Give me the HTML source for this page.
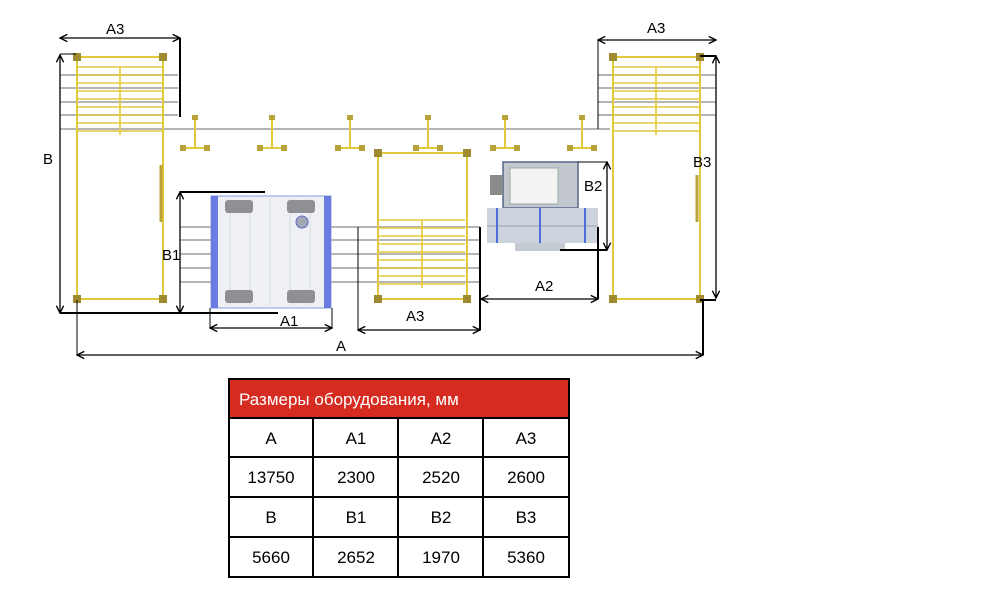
<!DOCTYPE html>
<html><head><meta charset="utf-8"><style>
html,body{margin:0;padding:0;background:#fff;width:1000px;height:590px;overflow:hidden}
svg{position:absolute;left:0;top:0}
text{font-family:"Liberation Sans","DejaVu Sans",sans-serif}
</style></head><body>
<svg width="1000" height="590" viewBox="0 0 1000 590" xmlns="http://www.w3.org/2000/svg">
<defs>
<marker id="ar" viewBox="0 0 10 10" refX="9" refY="5" markerWidth="7" markerHeight="7" orient="auto-start-reverse"><path d="M1,1 L9,5 L1,9" fill="none" stroke="#000" stroke-width="1.5"/></marker>
<g id="grille">
 <g stroke="#e3c93a" stroke-width="1.6">
  <line x1="0" y1="0" x2="86" y2="0"/><line x1="0" y1="8" x2="86" y2="8"/><line x1="0" y1="16" x2="86" y2="16"/><line x1="0" y1="24" x2="86" y2="24"/><line x1="0" y1="32" x2="86" y2="32"/><line x1="0" y1="40" x2="86" y2="40"/><line x1="0" y1="48" x2="86" y2="48"/><line x1="0" y1="56" x2="86" y2="56"/><line x1="0" y1="64" x2="86" y2="64"/><line x1="43" y1="0" x2="43" y2="68"/>
 </g>
</g>
<g id="tee" fill="#b8a23a" stroke="#e3c93a" stroke-width="2">
 <line x1="0" y1="0" x2="0" y2="30"/><line x1="-12" y1="30" x2="12" y2="30"/>
 <rect x="-3" y="-3" width="6" height="5" stroke="none"/><rect x="-15" y="27" width="6" height="6" stroke="none"/><rect x="9" y="27" width="6" height="6" stroke="none"/>
</g>
</defs>

<!-- gray rails -->
<g stroke="#b5b5b5" stroke-width="2">
 <line x1="60" y1="75" x2="178" y2="75"/><line x1="60" y1="88" x2="178" y2="88"/><line x1="60" y1="102" x2="178" y2="102"/><line x1="60" y1="115" x2="178" y2="115"/><line x1="60" y1="129" x2="610" y2="129"/>
 <line x1="598" y1="75" x2="716" y2="75"/><line x1="598" y1="88" x2="716" y2="88"/><line x1="598" y1="102" x2="716" y2="102"/><line x1="598" y1="115" x2="716" y2="115"/>
 <line x1="180" y1="227" x2="480" y2="227"/><line x1="180" y1="240" x2="480" y2="240"/><line x1="180" y1="254" x2="480" y2="254"/><line x1="180" y1="268" x2="480" y2="268"/><line x1="180" y1="282" x2="480" y2="282"/>
</g>

<!-- left frame -->
<rect x="77" y="57" width="86" height="242" fill="none" stroke="#e3c93a" stroke-width="2"/>
<use href="#grille" x="77" y="67"/>
<line x1="161" y1="165" x2="161" y2="222" stroke="#b8a23a" stroke-width="3"/>
<g fill="#a08a30"><rect x="73" y="53" width="8" height="8"/><rect x="159" y="53" width="8" height="8"/><rect x="73" y="295" width="8" height="8"/><rect x="159" y="295" width="8" height="8"/></g>

<!-- right frame -->
<rect x="613" y="57" width="87" height="242" fill="none" stroke="#e3c93a" stroke-width="2"/>
<use href="#grille" x="613" y="67"/>
<line x1="697" y1="175" x2="697" y2="222" stroke="#b8a23a" stroke-width="3"/>
<g fill="#a08a30"><rect x="609" y="53" width="8" height="8"/><rect x="696" y="53" width="8" height="8"/><rect x="609" y="295" width="8" height="8"/><rect x="696" y="295" width="8" height="8"/></g>

<!-- center frame -->
<rect x="378" y="153" width="89" height="146" fill="none" stroke="#e3c93a" stroke-width="2"/>
<use href="#grille" x="379" y="220"/>
<g fill="#a08a30"><rect x="374" y="149" width="8" height="8"/><rect x="463" y="149" width="8" height="8"/><rect x="374" y="295" width="8" height="8"/><rect x="463" y="295" width="8" height="8"/></g>

<!-- tees -->
<use href="#tee" x="195" y="118"/><use href="#tee" x="272" y="118"/><use href="#tee" x="350" y="118"/><use href="#tee" x="428" y="118"/><use href="#tee" x="505" y="118"/><use href="#tee" x="582" y="118"/>

<!-- blue unit -->
<rect x="211" y="196" width="120" height="112" fill="#eef0f3" stroke="#8b9be0" stroke-width="1"/>
<g stroke="#d8dbe2" stroke-width="1"><line x1="230" y1="198" x2="230" y2="306"/><line x1="250" y1="198" x2="250" y2="306"/><line x1="270" y1="198" x2="270" y2="306"/><line x1="290" y1="198" x2="290" y2="306"/><line x1="310" y1="198" x2="310" y2="306"/></g>
<rect x="211" y="196" width="7" height="112" fill="#6a7ce0"/><rect x="324" y="196" width="7" height="112" fill="#6a7ce0"/>
<g fill="#8e9096"><rect x="225" y="200" width="28" height="13" rx="3"/><rect x="287" y="200" width="28" height="13" rx="3"/><rect x="225" y="290" width="28" height="13" rx="3"/><rect x="287" y="290" width="28" height="13" rx="3"/></g>
<circle cx="302" cy="222" r="6" fill="#a4a8b4" stroke="#5a6ad0"/>

<!-- gray machine -->
<rect x="503" y="162" width="75" height="46" fill="#c3c8cf" stroke="#56658a" stroke-width="1.5"/>
<rect x="490" y="175" width="13" height="20" fill="#8a8c8a"/>
<rect x="510" y="168" width="48" height="36" fill="#f3f3f3" stroke="#9aa"/>
<rect x="487" y="208" width="111" height="35" fill="#ccd3dc"/>
<line x1="487" y1="226" x2="598" y2="226" stroke="#9aa3ad"/>
<g stroke="#4f6cdc" stroke-width="2"><line x1="497" y1="208" x2="497" y2="243"/><line x1="540" y1="208" x2="540" y2="243"/><line x1="585" y1="208" x2="585" y2="243"/></g>
<rect x="515" y="243" width="50" height="8" fill="#c3cad2"/>

<!-- dimensions -->
<g stroke="#000" fill="none">
 <line x1="60" y1="38" x2="180" y2="38" stroke-width="1.3" marker-start="url(#ar)" marker-end="url(#ar)"/>
 <line x1="180" y1="38" x2="180" y2="117" stroke-width="2"/>
 <line x1="60" y1="55" x2="60" y2="313" stroke-width="1.3" marker-start="url(#ar)" marker-end="url(#ar)"/>
 <line x1="60" y1="313" x2="278" y2="313" stroke-width="2"/>
 <line x1="60" y1="54" x2="76" y2="54" stroke-width="1"/>
 <line x1="180" y1="192" x2="180" y2="313" stroke-width="1.3" marker-start="url(#ar)" marker-end="url(#ar)"/>
 <line x1="180" y1="192" x2="265" y2="192" stroke-width="2"/>
 <line x1="210" y1="328" x2="332" y2="328" stroke-width="1.3" marker-start="url(#ar)" marker-end="url(#ar)"/>
 <line x1="210" y1="308" x2="210" y2="328" stroke-width="1"/><line x1="332" y1="308" x2="332" y2="328" stroke-width="1"/>
 <line x1="77" y1="355" x2="703" y2="355" stroke-width="1.3" marker-start="url(#ar)" marker-end="url(#ar)"/>
 <line x1="77" y1="300" x2="77" y2="355" stroke-width="1"/>
 <line x1="703" y1="300" x2="703" y2="355" stroke-width="2"/>
 <line x1="700" y1="300" x2="716" y2="300" stroke-width="2"/>
 <line x1="358" y1="330" x2="480" y2="330" stroke-width="1.3" marker-start="url(#ar)" marker-end="url(#ar)"/>
 <line x1="358" y1="227" x2="358" y2="330" stroke-width="1"/>
 <line x1="480" y1="227" x2="480" y2="330" stroke-width="2"/>
 <line x1="481" y1="299" x2="598" y2="299" stroke-width="1.3" marker-start="url(#ar)" marker-end="url(#ar)"/>
 <line x1="598" y1="227" x2="598" y2="299" stroke-width="2"/>
 <line x1="607" y1="162" x2="607" y2="250" stroke-width="1.3" marker-start="url(#ar)" marker-end="url(#ar)"/>
 <line x1="578" y1="162" x2="607" y2="162" stroke-width="1"/>
 <line x1="560" y1="250" x2="607" y2="250" stroke-width="2"/>
 <line x1="598" y1="40" x2="716" y2="40" stroke-width="1.3" marker-start="url(#ar)" marker-end="url(#ar)"/>
 <line x1="598" y1="40" x2="598" y2="129" stroke-width="1"/>
 <line x1="716" y1="56" x2="716" y2="298" stroke-width="1.3" marker-start="url(#ar)" marker-end="url(#ar)"/>
 <line x1="700" y1="56" x2="716" y2="56" stroke-width="2"/>
</g>
<g font-size="15" fill="#000">
 <text x="106" y="34">A3</text>
 <text x="43" y="164">B</text>
 <text x="162" y="260">B1</text>
 <text x="280" y="326">A1</text>
 <text x="336" y="351">A</text>
 <text x="406" y="321">A3</text>
 <text x="535" y="291">A2</text>
 <text x="584" y="191">B2</text>
 <text x="647" y="33">A3</text>
 <text x="693" y="167">B3</text>
</g>

<!-- table -->
<rect x="229" y="379" width="340" height="39" fill="#d52b21"/>
<text x="239" y="405" font-size="17" fill="#fff">Размеры оборудования, мм</text>
<g stroke="#000" stroke-width="2" fill="none">
 <rect x="229" y="379" width="340" height="198"/>
 <line x1="229" y1="418" x2="569" y2="418"/><line x1="229" y1="457" x2="569" y2="457"/><line x1="229" y1="497" x2="569" y2="497"/><line x1="229" y1="537" x2="569" y2="537"/>
 <line x1="313" y1="418" x2="313" y2="577"/><line x1="398" y1="418" x2="398" y2="577"/><line x1="483" y1="418" x2="483" y2="577"/>
</g>
<g font-size="17" text-anchor="middle" fill="#000">
 <text x="271" y="444">A</text><text x="356" y="444">A1</text><text x="441" y="444">A2</text><text x="526" y="444">A3</text>
 <text x="271" y="483">13750</text><text x="356" y="483">2300</text><text x="441" y="483">2520</text><text x="526" y="483">2600</text>
 <text x="271" y="523">B</text><text x="356" y="523">B1</text><text x="441" y="523">B2</text><text x="526" y="523">B3</text>
 <text x="271" y="563">5660</text><text x="356" y="563">2652</text><text x="441" y="563">1970</text><text x="526" y="563">5360</text>
</g>
</svg>
</body></html>
